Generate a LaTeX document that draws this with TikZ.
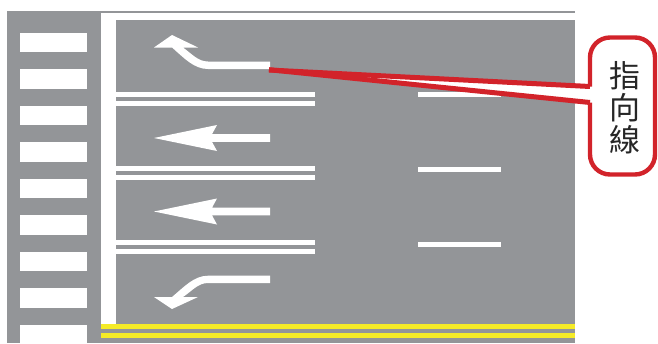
\documentclass[tikz,border=0pt]{standalone}
\usepackage{fontspec}
\newfontfamily\cjk{Noto Sans CJK TC}
\definecolor{road}{HTML}{939598}
\definecolor{calloutred}{HTML}{D2232A}
\definecolor{lineyellow}{HTML}{F5EB27}
\tikzset{
  paint/.style={fill=white,draw=none},
  yellowpaint/.style={fill=lineyellow,draw=none},
  calloutbox/.style={draw=calloutred,line width=4.4pt,fill=white,rounded corners=20pt,
    minimum width=65pt,minimum height=137pt,inner sep=0pt},
  calloutlabel/.style={inner sep=0pt,align=center,
    font=\cjk\fontsize{31}{32}\selectfont,text=black!85},
  pointerline/.style={draw=calloutred,line width=5pt,line cap=butt,line join=miter}
}
\begin{document}
\begin{tikzpicture}[x=1pt,y=-1pt]
\useasboundingbox (0,0) rectangle (658,343);
% road
\fill[road] (7,11) rectangle (575,343);
% zebra
\foreach \y in {32.5,69,105.5,142,178.5,215,251.5,288}
  \fill[paint] (19.5,\y) rectangle (86.5,\y+19.6);
\fill[paint] (19.5,324.5) rectangle (86.5,343);
% stop line and top edge
\fill[paint] (101,13.3) rectangle (575,20);
\fill[paint] (101,20) rectangle (116,324);
% double lane lines
\foreach \y in {91.7,166,240.2}{
  \fill[paint] (116,\y) rectangle (315,\y+5);
  \fill[paint] (116,\y+9) rectangle (315,\y+14.2);
}
% dashes
\foreach \y in {92.3,167.3,242.3}
  \fill[paint] (418,\y) rectangle (501,\y+5);
% yellow lines
\fill[yellowpaint] (101,323.8) rectangle (575,328.8);
\fill[yellowpaint] (101,333) rectangle (575,338);
% straight arrows
\foreach \y in {138,211.5}
  \fill[paint] (270,\y-3.8) -- (212,\y-3.8) -- (217,\y-13) -- (154,\y)
     -- (217,\y+13) -- (212,\y+3.8) -- (270,\y+3.8) -- cycle;
% upper turning arrow
\fill[paint] (270,61.5) -- (208,61.5) .. controls (198,61.5) and (192,54) .. (183,47.5)
  -- (198,47.5) -- (172,35) -- (154,47.5) -- (172,47.5)
  .. controls (184,58) and (194,69) .. (208,69) -- (270,69) -- cycle;
% lower turning arrow
\fill[paint] (270,275.7) -- (208,275.7) .. controls (194,275.7) and (184,287) .. (172,297)
  -- (154,297) -- (172,309) -- (198,297) -- (183,297)
  .. controls (192,291) and (198,283) .. (208,283) -- (270,283) -- cycle;
% callout
\node[calloutbox] (callout) at (622.5,106) {};
\node[calloutlabel] (calloutlabel) at (625.3,107.5) {指\\向\\線};
\coordinate (tipA) at (269,70);
\coordinate (tipB) at (269,69.7);
\coordinate (baseA) at (590,86.5);
\coordinate (baseB) at (590,102.5);
\fill[white] (tipA) -- (baseA) -- ([xshift=6pt]baseA) -- ([xshift=6pt]baseB) -- (baseB) -- cycle;
\draw[pointerline] (tipA) -- (baseA);
\draw[pointerline] (tipB) -- (baseB);
\end{tikzpicture}
\end{document}
